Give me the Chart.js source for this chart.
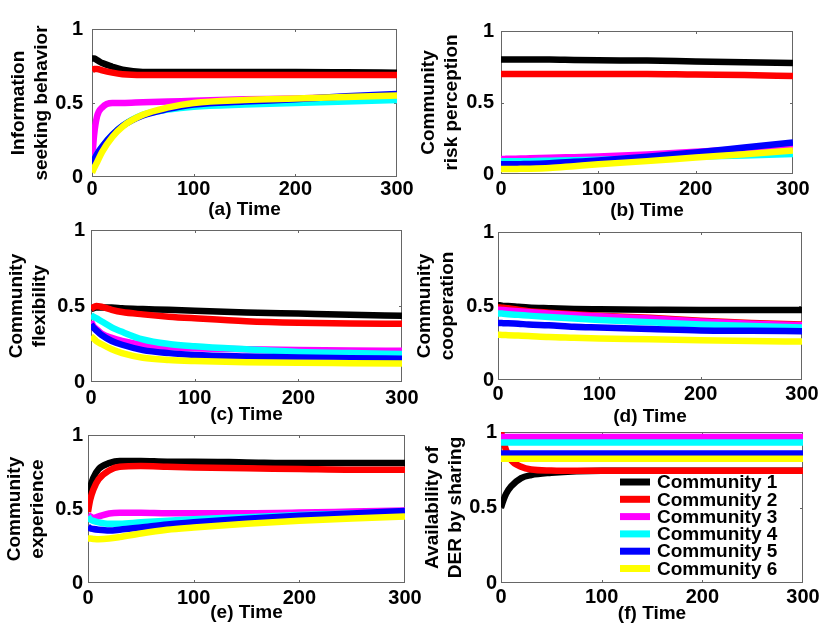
<!DOCTYPE html>
<html>
<head>
<meta charset="utf-8">
<script src="https://cdn.jsdelivr.net/npm/chart.js@4.4.0/dist/chart.umd.min.js"></script>
<style>
  html, body { margin: 0; padding: 0; background: #fff; }
  body { width: 831px; height: 635px; position: relative; overflow: hidden; }
  .panel { position: absolute; }
</style>
</head>
<body>
<script>
// sample times shared by every panel
const times = [0, 2, 5, 10, 20, 30, 50, 75, 100, 150, 200, 250, 300];
const communities = ['Community 1', 'Community 2', 'Community 3', 'Community 4', 'Community 5', 'Community 6'];
const colors = ['#000000', '#ff0000', '#ff00ff', '#00ffff', '#0000ff', '#ffff00'];
const xTicks = [0, 100, 200, 300];
const yTicks = [0, 0.5, 1];

// (a) information seeking behavior, one row per community
const seeking = [
  [0.80, 0.80, 0.79, 0.77, 0.745, 0.725, 0.71, 0.71, 0.71, 0.71, 0.71, 0.708, 0.705],
  [0.72, 0.73, 0.73, 0.72, 0.705, 0.695, 0.69, 0.69, 0.69, 0.69, 0.69, 0.69, 0.69],
  [0.10, 0.28, 0.41, 0.47, 0.50, 0.50, 0.505, 0.51, 0.515, 0.525, 0.53, 0.54, 0.545],
  [0.08, 0.115, 0.155, 0.205, 0.285, 0.345, 0.42, 0.455, 0.475, 0.49, 0.50, 0.51, 0.52],
  [0.085, 0.115, 0.155, 0.205, 0.285, 0.345, 0.415, 0.46, 0.49, 0.51, 0.525, 0.545, 0.56],
  [0.03, 0.06, 0.10, 0.17, 0.27, 0.34, 0.42, 0.47, 0.50, 0.52, 0.53, 0.54, 0.55]
];
// (b) risk perception
const riskPerception = [
  [0.80, 0.80, 0.80, 0.80, 0.80, 0.80, 0.80, 0.797, 0.795, 0.793, 0.787, 0.782, 0.777],
  [0.70, 0.70, 0.70, 0.70, 0.70, 0.70, 0.70, 0.70, 0.70, 0.70, 0.695, 0.693, 0.685],
  [0.105, 0.105, 0.106, 0.107, 0.108, 0.11, 0.113, 0.118, 0.123, 0.137, 0.155, 0.175, 0.20],
  [0.09, 0.09, 0.09, 0.09, 0.09, 0.09, 0.093, 0.097, 0.10, 0.11, 0.12, 0.13, 0.14],
  [0.068, 0.068, 0.068, 0.068, 0.069, 0.07, 0.075, 0.085, 0.095, 0.12, 0.15, 0.185, 0.22],
  [0.035, 0.035, 0.035, 0.035, 0.036, 0.037, 0.042, 0.055, 0.068, 0.09, 0.115, 0.138, 0.165]
];
// (c) flexibility
const flexibility = [
  [0.48, 0.485, 0.49, 0.49, 0.49, 0.485, 0.48, 0.475, 0.468, 0.458, 0.45, 0.442, 0.436],
  [0.48, 0.49, 0.50, 0.495, 0.475, 0.46, 0.445, 0.43, 0.419, 0.40, 0.39, 0.385, 0.383],
  [0.40, 0.37, 0.35, 0.32, 0.29, 0.27, 0.245, 0.23, 0.222, 0.215, 0.21, 0.207, 0.205],
  [0.44, 0.43, 0.42, 0.40, 0.36, 0.33, 0.28, 0.25, 0.235, 0.215, 0.198, 0.19, 0.185],
  [0.38, 0.36, 0.34, 0.31, 0.27, 0.245, 0.21, 0.19, 0.178, 0.168, 0.162, 0.157, 0.153],
  [0.30, 0.29, 0.27, 0.25, 0.215, 0.19, 0.16, 0.145, 0.138, 0.13, 0.126, 0.124, 0.122]
];
// (d) cooperation
const cooperation = [
  [0.505, 0.505, 0.50, 0.50, 0.495, 0.49, 0.485, 0.48, 0.478, 0.475, 0.473, 0.473, 0.473],
  [0.49, 0.49, 0.488, 0.485, 0.475, 0.465, 0.455, 0.445, 0.435, 0.42, 0.40, 0.385, 0.375],
  [0.475, 0.475, 0.473, 0.47, 0.465, 0.46, 0.45, 0.44, 0.43, 0.415, 0.395, 0.38, 0.37],
  [0.45, 0.45, 0.448, 0.445, 0.44, 0.435, 0.425, 0.415, 0.405, 0.39, 0.375, 0.365, 0.355],
  [0.385, 0.385, 0.384, 0.383, 0.38, 0.375, 0.37, 0.36, 0.355, 0.345, 0.335, 0.333, 0.33],
  [0.305, 0.305, 0.304, 0.303, 0.30, 0.297, 0.29, 0.285, 0.28, 0.275, 0.268, 0.263, 0.26]
];
// (e) experience
const experience = [
  [0.55, 0.64, 0.71, 0.77, 0.81, 0.825, 0.825, 0.82, 0.82, 0.815, 0.81, 0.81, 0.81],
  [0.48, 0.56, 0.63, 0.70, 0.76, 0.785, 0.79, 0.785, 0.78, 0.775, 0.77, 0.765, 0.765],
  [0.46, 0.45, 0.44, 0.45, 0.47, 0.475, 0.475, 0.472, 0.472, 0.472, 0.476, 0.483, 0.49],
  [0.45, 0.43, 0.42, 0.41, 0.40, 0.40, 0.41, 0.42, 0.43, 0.445, 0.46, 0.47, 0.48],
  [0.38, 0.37, 0.365, 0.36, 0.355, 0.36, 0.375, 0.395, 0.41, 0.435, 0.455, 0.47, 0.487],
  [0.30, 0.30, 0.298, 0.296, 0.30, 0.31, 0.335, 0.36, 0.375, 0.40, 0.42, 0.435, 0.45]
];
// (f) availability of DER by sharing
const availability = [
  [0.50, 0.54, 0.59, 0.64, 0.695, 0.715, 0.73, 0.74, 0.743, 0.743, 0.743, 0.743, 0.743],
  [1.00, 0.95, 0.88, 0.815, 0.77, 0.752, 0.745, 0.743, 0.743, 0.743, 0.743, 0.743, 0.743],
  [0.967, 0.967, 0.967, 0.967, 0.967, 0.967, 0.967, 0.967, 0.967, 0.967, 0.967, 0.967, 0.967],
  [0.93, 0.93, 0.93, 0.93, 0.93, 0.93, 0.93, 0.93, 0.93, 0.93, 0.93, 0.93, 0.93],
  [0.858, 0.858, 0.858, 0.858, 0.858, 0.858, 0.858, 0.858, 0.858, 0.858, 0.858, 0.858, 0.858],
  [0.823, 0.823, 0.823, 0.823, 0.823, 0.823, 0.823, 0.823, 0.823, 0.823, 0.823, 0.823, 0.823]
];

const panels = [
  { yTitle: ['Information', 'seeking behavior'], xTitle: '(a) Time', series: seeking },
  { yTitle: ['Community', 'risk perception'], xTitle: '(b) Time', series: riskPerception },
  { yTitle: ['Community', 'flexibility'], xTitle: '(c) Time', series: flexibility },
  { yTitle: ['Community', 'cooperation'], xTitle: '(d) Time', series: cooperation },
  { yTitle: ['Community', 'experience'], xTitle: '(e) Time', series: experience },
  { yTitle: ['Availability of', 'DER by sharing'], xTitle: '(f) Time', series: availability, legend: true }
];

// plot box on the page: left, top, right, bottom, y-title gap, x-title gap, y-tick gap, x-tick gap
const boxes = [
  [92, 22, 397, 177, 73, 33, 9, 12.5],
  [501, 26, 793, 174, 72, 37, 7, 15],
  [91, 226, 402, 382, 74, 33, 6, 16],
  [498, 230, 802, 380, 73, 37, 4, 14],
  [88, 432, 405, 583, 73, 30, 5, 15],
  [501, 430, 803, 583, 68, 31, 4, 14]
];

const FONT = "'Liberation Sans', Arial, Helvetica, sans-serif";
const Y_W = 95;      // width of y axis strip
const X_H = 52;      // height of x axis strip
const PAD_TOP = 14;
const PAD_RIGHT = 30;
const TITLE_LH = 22.8;

// axes box with short inward ticks, drawn under the lines
const boxPlugin = {
  id: 'box',
  beforeDatasetsDraw(chart) {
    const { ctx, chartArea: a, scales } = chart;
    ctx.save();
    ctx.strokeStyle = '#666';
    ctx.lineWidth = 1;
    ctx.strokeRect(Math.round(a.left) + 0.5, Math.round(a.top) + 0.5,
      Math.round(a.width) - 1, Math.round(a.height) - 1);
    ctx.beginPath();
    xTicks.slice(1, -1).forEach(v => {
      const px = Math.round(scales.x.getPixelForValue(v)) + 0.5;
      ctx.moveTo(px, a.bottom); ctx.lineTo(px, a.bottom - 3);
      ctx.moveTo(px, a.top); ctx.lineTo(px, a.top + 3);
    });
    yTicks.slice(1, -1).forEach(v => {
      const py = Math.round(scales.y.getPixelForValue(v)) + 0.5;
      ctx.moveTo(a.left, py); ctx.lineTo(a.left + 3, py);
      ctx.moveTo(a.right, py); ctx.lineTo(a.right - 3, py);
    });
    ctx.stroke();
    ctx.restore();
  }
};

// legend inside panel (f), drawn like the MATLAB one
const legendPlugin = {
  id: 'insideLegend',
  afterDatasetsDraw(chart, args, opts) {
    if (!opts.show) return;
    const { ctx, chartArea: a } = chart;
    ctx.save();
    ctx.font = 'bold 19px ' + FONT;
    ctx.textBaseline = 'middle';
    ctx.textAlign = 'left';
    chart.data.datasets.forEach((ds, i) => {
      const y = a.top + 50 + i * 17.3;
      ctx.strokeStyle = ds.borderColor;
      ctx.lineWidth = 7;
      ctx.beginPath();
      ctx.moveTo(a.left + 119, y);
      ctx.lineTo(a.left + 149, y);
      ctx.stroke();
      ctx.fillStyle = '#000';
      ctx.fillText(ds.label, a.left + 156, y + 1);
    });
    ctx.restore();
  }
};

panels.forEach((p, idx) => {
  const [l, t, r, b, yGap, xGap, yTickGap, xTickGap] = boxes[idx];
  const div = document.createElement('div');
  div.className = 'panel';
  div.style.left = (l - Y_W) + 'px';
  div.style.top = (t - PAD_TOP) + 'px';
  div.style.width = (Y_W + (r - l) + PAD_RIGHT) + 'px';
  div.style.height = (PAD_TOP + (b - t) + X_H) + 'px';
  const canvas = document.createElement('canvas');
  div.appendChild(canvas);
  document.body.appendChild(div);

  const datasets = p.series.map((vals, i) => ({
    label: communities[i],
    data: times.map((tm, k) => ({ x: tm, y: vals[k] })),
    borderColor: colors[i],
    backgroundColor: colors[i],
    borderWidth: 6.5,
    pointRadius: 0,
    cubicInterpolationMode: 'monotone',
    borderCapStyle: 'butt',
    borderJoinStyle: 'round',
    order: colors.length - 1 - i
  }));

  new Chart(canvas, {
    type: 'line',
    data: { datasets },
    options: {
      responsive: true,
      maintainAspectRatio: false,
      animation: false,
      layout: { padding: { top: PAD_TOP, right: PAD_RIGHT, left: 0, bottom: 0 } },
      plugins: {
        legend: { display: false },
        tooltip: { enabled: false },
        insideLegend: { show: !!p.legend }
      },
      scales: {
        x: {
          type: 'linear',
          min: 0,
          max: 300,
          afterBuildTicks: axis => { axis.ticks = xTicks.map(v => ({ value: v })); },
          afterFit: axis => { axis.height = X_H; },
          grid: { display: false, drawTicks: false },
          border: { display: false },
          ticks: {
            color: '#000',
            maxRotation: 0,
            padding: xTickGap - 12,
            callback: v => String(v),
            font: { family: FONT, size: 20, weight: 'bold', lineHeight: 1.2 }
          },
          title: {
            display: true,
            text: p.xTitle,
            color: '#000',
            font: { family: FONT, size: 19, weight: 'bold', lineHeight: 1.2 },
            padding: { top: 0, bottom: X_H - TITLE_LH / 2 - xGap }
          }
        },
        y: {
          min: 0,
          max: 1,
          afterBuildTicks: axis => { axis.ticks = yTicks.map(v => ({ value: v })); },
          afterFit: axis => { axis.width = Y_W; },
          grid: { display: false, drawTicks: false },
          border: { display: false },
          ticks: {
            color: '#000',
            padding: yTickGap,
            callback: v => String(v),
            font: { family: FONT, size: 20, weight: 'bold', lineHeight: 1.2 }
          },
          title: {
            display: true,
            text: p.yTitle,
            color: '#000',
            font: { family: FONT, size: 19, weight: 'bold', lineHeight: 1.2 },
            padding: { top: Y_W - yGap - TITLE_LH / 2, bottom: 0 }
          }
        }
      }
    },
    plugins: [boxPlugin, legendPlugin]
  });
});
</script>
</body>
</html>
